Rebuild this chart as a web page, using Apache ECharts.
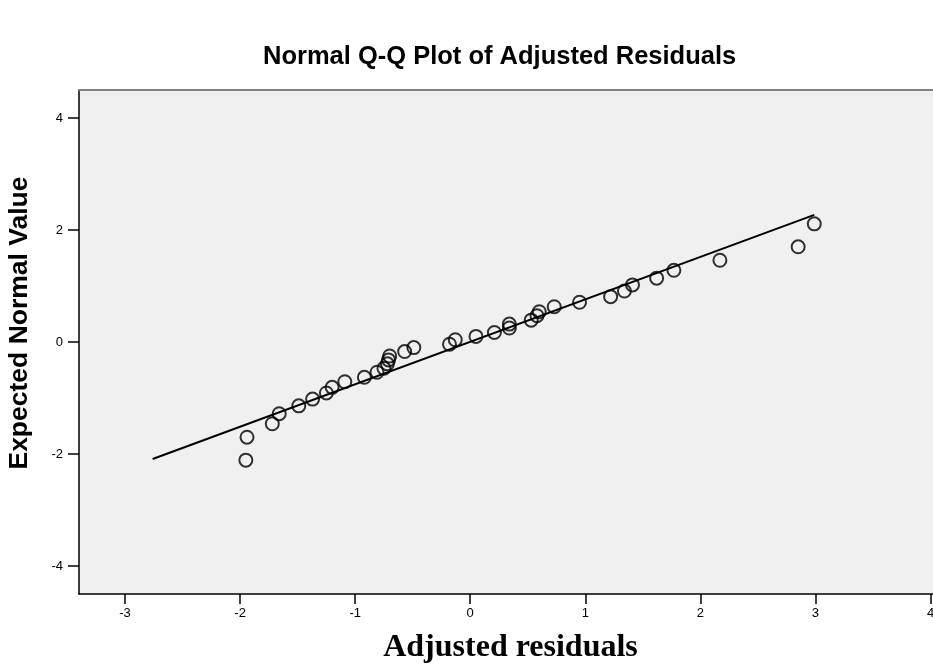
<!DOCTYPE html>
<html>
<head>
<meta charset="utf-8">
<script src="https://cdn.jsdelivr.net/npm/echarts@6/dist/echarts.min.js"></script>
<style>
  html, body { margin: 0; padding: 0; background: #fff; }
  #chart { width: 933px; height: 666px; }
</style>
</head>
<body>
<div id="chart"></div>
<script>
// observed adjusted residuals (x) and expected normal values (y)
const residuals = [
  -1.95, -1.94, -1.72, -1.66, -1.49, -1.37, -1.25, -1.20, -1.09,
  -0.92, -0.81, -0.75, -0.72, -0.71, -0.70, -0.57, -0.49, -0.18,
  -0.13, 0.05, 0.21, 0.34, 0.34, 0.53, 0.58, 0.60, 0.73,
  0.95, 1.22, 1.34, 1.41, 1.62, 1.77, 2.17, 2.85, 2.99
];
const expected = [
  -2.11, -1.70, -1.46, -1.28, -1.14, -1.02, -0.91, -0.81, -0.71,
  -0.63, -0.54, -0.47, -0.39, -0.32, -0.25, -0.17, -0.10, -0.04,
  0.04, 0.10, 0.17, 0.25, 0.32, 0.39, 0.47, 0.54, 0.63,
  0.71, 0.81, 0.91, 1.02, 1.14, 1.28, 1.46, 1.70, 2.11
];
// reference line end points
const lineX = [-2.76, 2.99];
const lineY = [-2.09, 2.27];
// tick labels
const xTicks = [-3, -2, -1, 0, 1, 2, 3, 4];
const yTicks = [-4, -2, 0, 2, 4];

const chart = echarts.init(document.getElementById("chart"));

const points = residuals.map((x, i) => [x, expected[i]]);
const line = lineX.map((x, i) => [x, lineY[i]]);

chart.setOption({
  animation: false,
  title: {
    text: "Normal Q-Q Plot of Adjusted Residuals",
    left: 258,
    top: 39,
    textStyle: {
      fontFamily: "Liberation Sans, Arial",
      fontWeight: "bold",
      fontSize: 25.5,
      color: "#000"
    }
  },
  // y axis title sits a bit above the plot's middle, so it is placed by hand
  graphic: [
    {
      type: "text",
      x: 20,
      y: 323,
      rotation: Math.PI / 2,
      style: {
        text: "Expected Normal Value",
        align: "center",
        verticalAlign: "middle",
        fontFamily: "Liberation Sans, Arial",
        fontWeight: "bold",
        fontSize: 26.5,
        fill: "#000"
      }
    }
  ],
  grid: {
    left: 79,
    top: 90,
    right: -9,
    bottom: 72,
    outerBoundsMode: "none",
    containLabel: false,
    show: true,
    backgroundColor: "#f0f0f0",
    borderWidth: 0
  },
  xAxis: [
    {
      type: "value",
      min: -3.4,
      max: 4.1,
      name: "Adjusted residuals",
      nameLocation: "middle",
      nameGap: 38,
      nameTextStyle: {
        fontFamily: "Liberation Serif, Times New Roman",
        fontWeight: "bold",
        fontSize: 32,
        color: "#000"
      },
      axisLine: { onZero: false, lineStyle: { color: "#000", width: 1.5 } },
      axisTick: { show: true, inside: false, length: 10, customValues: xTicks, lineStyle: { color: "#000", width: 1.5 } },
      axisLabel: {
        inside: false,
        customValues: xTicks,
        margin: 13,
        fontFamily: "Liberation Sans, Arial",
        fontSize: 13,
        color: "#000"
      },
      splitLine: { show: false }
    },
    {
      type: "value",
      position: "top",
      min: -3.4,
      max: 4.1,
      axisLine: { show: true, onZero: false, lineStyle: { color: "#808080", width: 2 } },
      axisTick: { show: false },
      axisLabel: { show: false },
      splitLine: { show: false }
    }
  ],
  yAxis: {
    type: "value",
    min: -4.5,
    max: 4.5,
    axisLine: { show: true, onZero: false, lineStyle: { color: "#000", width: 1.5 } },
    axisTick: { show: true, inside: false, length: 11, customValues: yTicks, lineStyle: { color: "#000", width: 1.5 } },
    axisLabel: {
      inside: false,
      customValues: yTicks,
      margin: 16,
      fontFamily: "Liberation Sans, Arial",
      fontSize: 13,
      color: "#000"
    },
    splitLine: { show: false }
  },
  series: [
    {
      type: "line",
      data: line,
      symbol: "none",
      lineStyle: { color: "#000", width: 2 },
      z: 2
    },
    {
      type: "scatter",
      data: points,
      symbol: "circle",
      symbolSize: 13,
      itemStyle: { color: "rgba(0,0,0,0)", borderColor: "#000", borderWidth: 2 },
      z: 3
    }
  ]
});
</script>
</body>
</html>
